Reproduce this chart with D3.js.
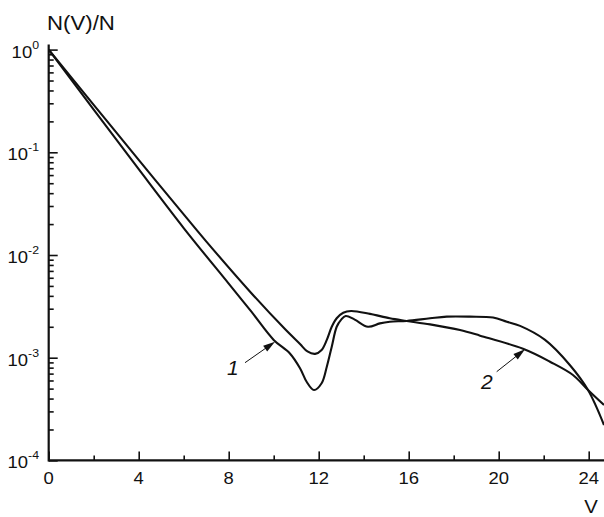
<!DOCTYPE html>
<html>
<head>
<meta charset="utf-8">
<script src="https://cdn.jsdelivr.net/npm/d3@7"></script>
<style>
  html, body { margin: 0; padding: 0; background: #fff; }
  svg { display: block; }
  text { font-family: "Liberation Sans", Arial, sans-serif; fill: #111; }
</style>
</head>
<body>
<svg id="chart" width="604" height="517"></svg>
<script>
// Energy (V) samples and relative population N(V)/N for the two curves
const v1 = [0, 2, 4, 6, 8, 9, 10, 10.72, 11.17, 11.47, 11.79, 12.13, 12.36, 12.58, 12.8, 13.0, 13.2, 13.6, 14.19, 14.72, 15.16, 15.91, 16.95, 17.69, 18.72, 19.75, 20.36, 20.95, 22.06, 23.16, 23.97, 24.68];
const n1 = [1, 0.260, 0.0684, 0.0183, 0.00526, 0.00282, 0.00149, 0.00110, 7.9e-4, 5.8e-4, 4.84e-4, 5.64e-4, 8.17e-4, 1.28e-3, 2.0e-3, 2.35e-3, 2.55e-3, 2.35e-3, 2.0e-3, 2.16e-3, 2.24e-3, 2.28e-3, 2.42e-3, 2.51e-3, 2.51e-3, 2.46e-3, 2.24e-3, 2.04e-3, 1.49e-3, 8.49e-4, 4.84e-4, 2.21e-4];

const v2 = [0, 2, 4, 6, 7, 9, 10.5, 11.17, 11.5, 11.84, 12.13, 12.36, 12.58, 12.8, 13.09, 13.44, 14.28, 15.16, 15.91, 16.95, 18.28, 19.17, 21.08, 22.28, 23.3, 23.97, 24.68];
const n2 = [1, 0.290, 0.0843, 0.0249, 0.01359, 4.27e-3, 1.90e-3, 1.36e-3, 1.15e-3, 1.09e-3, 1.19e-3, 1.49e-3, 2.0e-3, 2.42e-3, 2.74e-3, 2.85e-3, 2.67e-3, 2.42e-3, 2.28e-3, 2.11e-3, 1.86e-3, 1.64e-3, 1.22e-3, 9.14e-4, 6.79e-4, 4.84e-4, 3.46e-4];

const xMajor = [0, 4, 8, 12, 16, 20, 24];
const xMinor = [2, 6, 10, 14, 18, 22];
const yDecades = [0, -1, -2, -3, -4];
const yTitle = "N(V)/N";
const xTitle = "V";
const curveLabels = ["1", "2"];

const svg = d3.select("#chart");
const ink = "#111";

const x = d3.scaleLinear().domain([0, 25]).range([48.7, 611.2]);
const y = d3.scaleLog().domain([1e-4, 1]).range([460.4, 49.6]);

// minor log ticks: 2..9 within each decade
const yMinor = [];
for (let e = -4; e < 0; e++) for (let m = 2; m <= 9; m++) yMinor.push(m * Math.pow(10, e));

// axes with inward ticks
const gx = svg.append("g").attr("transform", `translate(0,${y(1e-4)})`);
gx.call(d3.axisBottom(x).tickValues(xMajor).tickSize(-9).tickFormat(""));
gx.append("g").call(d3.axisBottom(x).tickValues(xMinor).tickSize(-5).tickFormat(""));
gx.selectAll(".domain").remove();
gx.selectAll("line").attr("stroke", ink).attr("stroke-width", 1.6);

const gy = svg.append("g").attr("transform", `translate(${x(0)},0)`);
gy.call(d3.axisLeft(y).tickValues(yDecades.map(e => Math.pow(10, e))).tickSize(-9).tickFormat(""));
gy.append("g").call(d3.axisLeft(y).tickValues(yMinor).tickSize(-5).tickFormat(""));
gy.selectAll(".domain").remove();
gy.selectAll("line").attr("stroke", ink).attr("stroke-width", 1.6);

// axis lines
svg.append("line").attr("x1", x(0)).attr("x2", 604).attr("y1", y(1e-4)).attr("y2", y(1e-4))
  .attr("stroke", ink).attr("stroke-width", 2.2);
svg.append("line").attr("x1", x(0)).attr("x2", x(0)).attr("y1", y(1) - 5).attr("y2", y(1e-4) + 1)
  .attr("stroke", ink).attr("stroke-width", 2.2);

// x tick labels
xMajor.forEach(d => {
  svg.append("g").attr("transform", `translate(${x(d)},484) scale(1.12,1)`)
    .append("text").attr("text-anchor", "middle").attr("font-size", 16.5).text(d);
});

// y tick labels: 10 with superscript exponent
yDecades.forEach(e => {
  const t = svg.append("g").attr("transform", `translate(39,${y(Math.pow(10, e)) + 8}) scale(1.12,1)`)
    .append("text").attr("text-anchor", "end").attr("font-size", 16.5);
  t.append("tspan").text("10");
  t.append("tspan").attr("font-size", 11).attr("dy", -9).text(e === 0 ? "0" : "-" + (-e));
});

// axis titles
svg.append("g").attr("transform", "translate(47,29.5) scale(1.14,1)")
  .append("text").attr("font-size", 19.5).text(yTitle);
svg.append("g").attr("transform", "translate(591,513) scale(1.1,1)")
  .append("text").attr("text-anchor", "middle").attr("font-size", 18.5).text(xTitle);

// curves
const line = d3.line().x(d => x(d[0])).y(d => y(d[1])).curve(d3.curveCatmullRom.alpha(0.5));
[[v1, n1], [v2, n2]].forEach(([vs, ns]) => {
  svg.append("path").datum(vs.map((v, i) => [v, ns[i]]))
    .attr("d", line).attr("fill", "none").attr("stroke", ink)
    .attr("stroke-width", 2.1).attr("stroke-linejoin", "round");
});

// callout arrows with filled heads
function arrow(x1, y1, x2, y2) {
  const a = Math.atan2(y2 - y1, x2 - x1), L = 12, W = 3.5;
  svg.append("line").attr("x1", x1).attr("y1", y1)
    .attr("x2", x2 - L * 0.8 * Math.cos(a)).attr("y2", y2 - L * 0.8 * Math.sin(a))
    .attr("stroke", ink).attr("stroke-width", 1);
  const bx = x2 - L * Math.cos(a), by = y2 - L * Math.sin(a);
  const px = -Math.sin(a) * W, py = Math.cos(a) * W;
  svg.append("path")
    .attr("d", `M${x2},${y2}L${bx + px},${by + py}L${bx - px},${by - py}Z`)
    .attr("fill", ink);
}
arrow(245, 362.7, 275, 341.7);
arrow(496.7, 371.7, 525, 349.3);

svg.append("text").attr("x", 227).attr("y", 375).attr("font-size", 21)
  .attr("font-style", "italic").text(curveLabels[0]);
svg.append("text").attr("x", 481).attr("y", 389).attr("font-size", 21)
  .attr("font-style", "italic").text(curveLabels[1]);
</script>
</body>
</html>
